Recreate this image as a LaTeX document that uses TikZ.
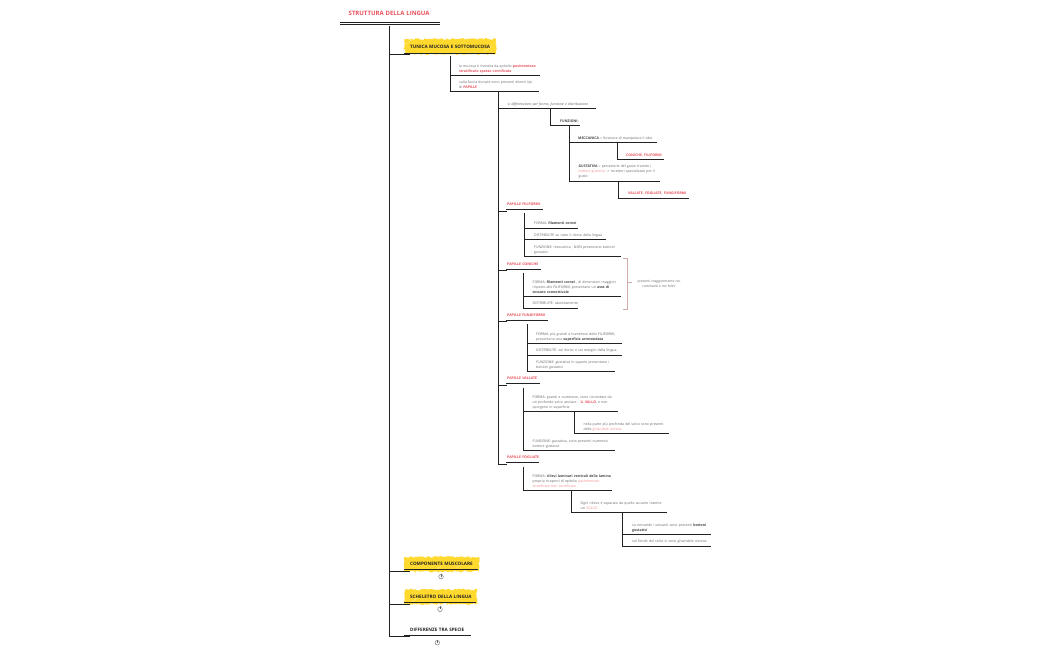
\documentclass[tikz,border=0pt]{standalone}
\usepackage{fontspec}
\setmainfont{Open Sans}
\usetikzlibrary{decorations.pathmorphing}
\definecolor{inkline}{HTML}{222222}
\definecolor{inkdark}{HTML}{444444}
\definecolor{inktext}{HTML}{666666}
\definecolor{inkred}{HTML}{E8505A}
\definecolor{inkpink}{HTML}{F08A8A}
\definecolor{inkyellow}{HTML}{FFD92E}
\newcommand{\red}[1]{\textcolor{inkred}{\textbf{#1}}}
\newcommand{\pink}[1]{\textcolor{inkpink}{#1}}
\newcommand{\dark}[1]{\textcolor{inkdark}{\textbf{#1}}}
\tikzset{
    link/.style={draw=inkline, line width=0.9pt},
    topic/.style={anchor=south west, inner xsep=0pt, inner ysep=2.3pt, text width=#1, align=left, text=inktext,
        font=\fontsize{3.5}{5}\selectfont, execute at end node={\rule[-0.9pt]{0pt}{0.9pt}}},
    papilla/.style={topic=#1, text=inkred, font=\fontsize{3.55}{5}\selectfont\bfseries, inner ysep=4.1pt},
    section/.style={topic=#1, text=inkline, font=\fontsize{4.6}{5}\selectfont\bfseries, inner ysep=4.4pt},
    rough/.style={fill=inkyellow, decorate, decoration={random steps, segment length=1.3pt, amplitude=1pt}},
    scratch/.style={draw=inkyellow!45, line width=0.4pt},
    badge/.style={circle, draw=inktext, line width=0.4pt, fill=white, inner sep=0pt, minimum size=4.6pt},
    note/.style={draw=inkpink!40!lightgray, line width=0.5pt}
}

\begin{document}
\begin{tikzpicture}[x=1pt, y=-1pt]
    \useasboundingbox (0,0) rectangle (1050,650);

    % Yellow highlights
    \fill[rough] (404.5,39) rectangle (496,54);
    \fill[rough] (404.5,557) rectangle (479,571.5);
    \fill[rough] (404.5,589.5) rectangle (477,604);
    \draw[scratch] (406,44) -- (412,39.5);
    \draw[scratch] (484,52) -- (492,46);
    \draw[scratch] (436,570) -- (441,566);
    \draw[scratch] (456,568) -- (461,564);
    \draw[scratch] (412,602) -- (417,598);

    % Title
    \node[section=100pt, text=inkred, font=\fontsize{6}{6}\selectfont\bfseries, inner ysep=6.5pt] (lingua) at (348.5,23.5) {STRUTTURA DELLA LINGUA};
    \draw[link, line width=0.9pt, double, double distance=0.6pt] ([xshift=-8.5pt]lingua.south west) -- ([xshift=-9pt]lingua.south east);

    % Main sections
    \node[section=85pt] (tunica) at (410,54.5) {TUNICA MUCOSA E SOTTOMUCOSA};
    \node[section=68pt] (muscolare) at (410,571) {COMPONENTE MUSCOLARE};
    \node[section=66pt] (scheletro) at (410,604) {SCHELETRO DELLA LINGUA};
    \node[section=61pt] (specie) at (410,636.7) {DIFFERENZE TRA SPECIE};
    \foreach \n in {tunica,muscolare,scheletro,specie} {
        \draw[link] ([xshift=41pt,yshift=-3pt]lingua.south west) |- (\n.south west);
        \draw[link] ([xshift=-6pt,yshift=1.5pt]\n.south west) -- ([yshift=1.5pt]\n.south east);
    }

    % Collapsed markers
    \node[badge] (badgeA) at (441,576.7) {};
    \node[badge] (badgeB) at (440,609.3) {};
    \node[badge] (badgeC) at (437.3,642.7) {};
    \foreach \n in {badgeA,badgeB,badgeC}
        \draw[draw=inktext, line width=0.5pt] ([yshift=0.6pt]\n.north) -- (\n.center);

    % Tunica
    \node[topic=81pt] (mucosa) at (459,75.5) {la mucosa è rivestita da epitelio \red{pavimentoso}\\\red{stratificato spesso cornificato}};
    \node[topic=80pt] (faccia) at (459,91.5) {sulla faccia dorsale sono presenti diversi tipi\\di \red{PAPILLE}};
    \draw[link] ([xshift=40pt,yshift=-1.5pt]tunica.south west) |- (mucosa.south east);
    \draw[link] ([xshift=40pt,yshift=-1.5pt]tunica.south west) |- (faccia.south east);

    % Differenze tra le papille
    \node[topic=88pt] (forma) at (507.5,108.5) {\textit{si differenziano per forma, funzione e distribuzione}};
    \node[topic=20pt, text=inkdark] (funzioni) at (560,125.5) {\textbf{FUNZIONI:}};
    \node[topic=78.5pt] (meccanica) at (578,142.5) {\dark{MECCANICA} = funzione di manipolare il cibo};
    \node[topic=38pt] (coniche) at (626,159.5) {\red{CONICHE, FILIFORMI}};
    \node[topic=81.5pt] (gustativa) at (578.5,181) {\dark{GUSTATIVA} = percezione del gusto tramite i\\\pink{bottoni gustativi} -> recettori specializzati per il\\gusto};
    \node[topic=61pt] (vallate) at (628,198) {\red{VALLATE, FOGLIATE, FUNGIFORMI}};
    \draw[link] ([xshift=39pt]faccia.south west) |- (forma.south east);
    \draw[link] ([xshift=43pt]forma.south west) |- (funzioni.south east);
    \draw[link] ([xshift=9pt]funzioni.south west) |- (meccanica.south east);
    \draw[link] ([xshift=9pt]funzioni.south west) |- (gustativa.south east);
    \draw[link] ([xshift=39pt]meccanica.south west) |- (coniche.south east);
    \draw[link] ([xshift=39.5pt]gustativa.south west) |- (vallate.south east);

    % Papille
    \node[papilla=36pt] (filiformi) at (507,211) {PAPILLE FILIFORMI};
    \node[papilla=34pt] (coniche2) at (507,270.5) {PAPILLE CONICHE};
    \node[papilla=41pt] (fungiformi) at (507,321.5) {PAPILLE FUNGIFORMI};
    \node[papilla=33pt] (vallate2) at (507,385) {PAPILLE VALLATE};
    \node[papilla=32pt] (fogliate) at (507,464) {PAPILLE FOGLIATE};
    \foreach \n in {filiformi,coniche2,fungiformi,vallate2,fogliate} {
        \draw[link] ([xshift=39pt]faccia.south west) |- (\n.south west);
        \draw[link] ([xshift=-1pt,yshift=1.5pt]\n.south west) -- ([yshift=1.5pt]\n.south east);
    }

    % Filiformi
    \node[topic=44pt] (filA) at (534,228) {FORMA: \dark{filamenti cornei}};
    \node[topic=72pt] (filB) at (534,239.5) {DISTRIBUITE su tutto il dorso della lingua};
    \node[topic=87pt] (filC) at (534,256.5) {FUNZIONE: meccanica , NON presentano bottoni\\gustativi};
    \draw[link] ([xshift=17pt,yshift=-2pt]filiformi.south west) |- (filA.south east);
    \draw[link] ([xshift=17pt,yshift=-2pt]filiformi.south west) |- (filB.south east);
    \draw[link] ([xshift=17pt,yshift=-2pt]filiformi.south west) |- (filC.south east);

    % Coniche
    \node[topic=88pt] (conA) at (532.5,296.5) {FORMA: \dark{filamenti cornei} , di dimensioni maggiori\\rispetto alle FILIFORMI, presentano un \dark{asse di}\\\dark{tessuto connettivale}};
    \node[topic=45.5pt] (conB) at (532.5,308) {DISTRIBUITE: abondamente};
    \draw[link] ([xshift=16pt,yshift=-2pt]coniche2.south west) |- (conA.south east);
    \draw[link] ([xshift=16pt,yshift=-2pt]coniche2.south west) |- (conB.south east);

    % Nota sui ruminanti
    \node[topic=50pt, align=center, inner ysep=0pt, anchor=center, font=\fontsize{3.35}{5}\selectfont] (ruminanti) at (659,284) {presenti maggiormente nei\\ruminanti e nei felini};
    \draw[note] (623,258.5) -- (627.3,258.5) -- (627.3,309) -- (623,309);
    \draw[note] (627.3,282) -- (631.5,282);

    % Fungiformi
    \node[topic=86pt] (funA) at (536,343.5) {FORMA: più grandi e numerose delle FILIFORMI,\\presentano una \dark{superficie arrotondata}};
    \node[topic=86pt] (funB) at (536,355) {DISTRIBUITE: sul dorso e sui margini della lingua};
    \node[topic=79pt] (funC) at (536,371.5) {FUNZIONE: gustativa in quanto presentano i\\bottoni gustativi};
    \draw[link] ([xshift=20pt,yshift=-2.5pt]fungiformi.south west) |- (funA.south east);
    \draw[link] ([xshift=20pt,yshift=-2.5pt]fungiformi.south west) |- (funB.south east);
    \draw[link] ([xshift=20pt,yshift=-2.5pt]fungiformi.south west) |- (funC.south east);

    % Vallate
    \node[topic=85pt] (valA) at (532.5,411.5) {FORMA: grandi e numerose, sono circondate da\\un profondo solco anulare : \red{IL VALLO}, e non\\sporgono in superficie};
    \node[topic=85pt] (valB) at (583.5,433.5) {nella parte più profonda del solco sono presenti\\delle \pink{ghiandole sierose}};
    \node[topic=82pt] (valC) at (532.5,450.5) {FUNZIONE: gustativa, sono presenti numerosi\\bottoni gustativi};
    \draw[link] ([xshift=16pt,yshift=-2.5pt]vallate2.south west) |- (valA.south east);
    \draw[link] ([xshift=16pt,yshift=-2.5pt]vallate2.south west) |- (valC.south east);
    \draw[link] ([xshift=41.5pt]valA.south west) |- (valB.south east);

    % Fogliate
    \node[topic=79.5pt] (fogA) at (532.5,490.5) {FORMA: \dark{rilievi laminari verticali della lamina}\\propria ricoperti di epitelio \pink{pavimentoso}\\\pink{stratificato non cornificato}};
    \node[topic=86.5pt] (fogB) at (580.5,512.5) {Ogni rilievo è separato da quello accanto tramite\\un \pink{SOLCO}};
    \node[topic=79pt] (fogC) at (632,534.5) {su entrambi i versanti sono presenti \dark{bottoni}\\\dark{gustativi}};
    \node[topic=78.5pt] (fogD) at (632,546) {sul fondo del solco vi sono ghiandole sierose};
    \draw[link] ([xshift=16pt,yshift=-2.5pt]fogliate.south west) |- (fogA.south east);
    \draw[link] ([xshift=38.5pt]fogA.south west) |- (fogB.south east);
    \draw[link] ([xshift=42pt]fogB.south west) |- (fogC.south east);
    \draw[link] ([xshift=42pt]fogB.south west) |- (fogD.south east);
\end{tikzpicture}
\end{document}
